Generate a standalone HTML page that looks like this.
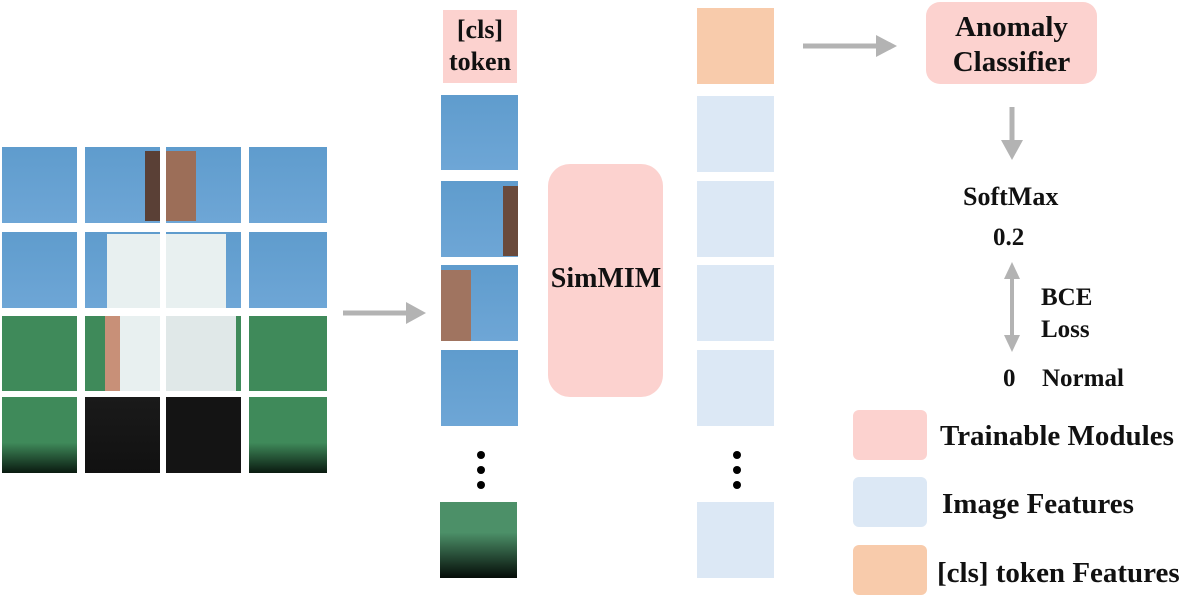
<!DOCTYPE html>
<html><head><style>
body{margin:0;width:1182px;height:599px;background:#fff;position:relative;overflow:hidden;font-family:"Liberation Serif",serif;font-weight:bold;color:#111}
.a{position:absolute}
.sky{background:linear-gradient(#5f9ccd,#6ea6d6)}
.grass{background:#3f8a5a}
.lb{background:#dce8f5}
.t{position:absolute;white-space:nowrap}
</style></head><body>
<div class="a sky" style="left:2px;top:147px;width:75px;height:76px"></div>
<div class="a sky" style="left:85px;top:147px;width:75px;height:76px"><div class="a" style="left:60px;top:4px;width:15px;height:70px;background:#5a4036"></div></div>
<div class="a sky" style="left:166px;top:147px;width:75px;height:76px"><div class="a" style="left:0;top:4px;width:30px;height:70px;background:#9c6e58"></div></div>
<div class="a sky" style="left:249px;top:147px;width:78px;height:76px"></div>
<div class="a sky" style="left:2px;top:232px;width:75px;height:76px"></div>
<div class="a sky" style="left:85px;top:232px;width:75px;height:76px"><div class="a" style="left:22px;top:2px;width:53px;height:74px;background:#e8f0f0"></div></div>
<div class="a sky" style="left:166px;top:232px;width:75px;height:76px"><div class="a" style="left:0;top:2px;width:60px;height:74px;background:#e8f0f0"></div></div>
<div class="a sky" style="left:249px;top:232px;width:78px;height:76px"></div>
<div class="a grass" style="left:2px;top:316px;width:75px;height:75px"></div>
<div class="a grass" style="left:85px;top:316px;width:75px;height:75px"><div class="a" style="left:20px;top:0;width:55px;height:75px;background:#c89078"></div><div class="a" style="left:35px;top:0;width:40px;height:75px;background:#e8f0f0"></div></div>
<div class="a grass" style="left:166px;top:316px;width:75px;height:75px"><div class="a" style="left:0;top:0;width:70px;height:75px;background:#e0e8e8"></div></div>
<div class="a grass" style="left:249px;top:316px;width:78px;height:75px"></div>
<div class="a" style="left:2px;top:397px;width:75px;height:76px;background:linear-gradient(#3f8a5a 60%,#0a1a10)"></div>
<div class="a" style="left:85px;top:397px;width:75px;height:76px;background:linear-gradient(#1a1a1a,#111)"></div>
<div class="a" style="left:166px;top:397px;width:75px;height:76px;background:#141414"></div>
<div class="a" style="left:249px;top:397px;width:78px;height:76px;background:linear-gradient(#3f8a5a 60%,#0a1a10)"></div>
<svg class="a" style="left:0;top:0" width="1182" height="599">
<g fill="#b3b3b3" stroke="#b3b3b3">
<line x1="343" y1="313" x2="408" y2="313" stroke-width="5"/><polygon points="406,302 426,313 406,324" stroke="none"/>
<line x1="803" y1="46" x2="878" y2="46" stroke-width="5"/><polygon points="876,35 897,46 876,57" stroke="none"/>
<line x1="1012" y1="107" x2="1012" y2="142" stroke-width="5"/><polygon points="1001,140 1012,160 1023,140" stroke="none"/>
<line x1="1012" y1="278" x2="1012" y2="336" stroke-width="4"/><polygon points="1004,279 1012,262 1020,279" stroke="none"/><polygon points="1004,335 1012,352 1020,335" stroke="none"/>
</g>
<g fill="#000"><circle cx="481" cy="455" r="4"/><circle cx="481" cy="470" r="4"/><circle cx="481" cy="485" r="4"/>
<circle cx="737" cy="455" r="4"/><circle cx="737" cy="470" r="4"/><circle cx="737" cy="485" r="4"/></g>
</svg>
<div class="a" style="left:443px;top:10px;width:74px;height:73px;background:#fcd2cf;text-align:center;font-size:26px;line-height:32px;padding-top:4px;box-sizing:border-box">[cls]<br>token</div>
<div class="a sky" style="left:441px;top:95px;width:77px;height:75px"></div>
<div class="a sky" style="left:441px;top:181px;width:77px;height:76px"><div class="a" style="left:62px;top:5px;width:15px;height:70px;background:#6a4a3c"></div></div>
<div class="a sky" style="left:441px;top:265px;width:77px;height:76px"><div class="a" style="left:0;top:5px;width:30px;height:71px;background:#a07460"></div></div>
<div class="a sky" style="left:441px;top:350px;width:77px;height:76px"></div>
<div class="a" style="left:440px;top:502px;width:77px;height:76px;background:linear-gradient(#4c9068 40%,#050c08)"></div>
<div class="a" style="left:548px;top:164px;width:115px;height:233px;background:#fcd2cf;border-radius:22px"></div>
<div class="t" style="left:540px;top:263px;width:132px;text-align:center;font-size:28px">SimMIM</div>
<div class="a" style="left:697px;top:8px;width:77px;height:76px;background:#f8cbab"></div>
<div class="a lb" style="left:697px;top:96px;width:77px;height:76px"></div>
<div class="a lb" style="left:697px;top:181px;width:77px;height:76px"></div>
<div class="a lb" style="left:697px;top:265px;width:77px;height:76px"></div>
<div class="a lb" style="left:697px;top:350px;width:77px;height:76px"></div>
<div class="a lb" style="left:697px;top:502px;width:77px;height:76px"></div>
<div class="a" style="left:926px;top:2px;width:171px;height:82px;background:#fcd2cf;border-radius:14px;text-align:center;font-size:29px;line-height:35px;padding-top:8px;box-sizing:border-box">Anomaly<br>Classifier</div>
<div class="t" style="left:963px;top:182px;font-size:26px">SoftMax</div>
<div class="t" style="left:993px;top:224px;font-size:25px">0.2</div>
<div class="t" style="left:1041px;top:284px;font-size:25px">BCE</div>
<div class="t" style="left:1041px;top:316px;font-size:25px">Loss</div>
<div class="t" style="left:1003px;top:365px;font-size:25px">0</div>
<div class="t" style="left:1042px;top:365px;font-size:25px">Normal</div>
<div class="a" style="left:853px;top:410px;width:74px;height:50px;background:#fcd2cf;border-radius:6px"></div>
<div class="a" style="left:853px;top:477px;width:74px;height:50px;background:#dce8f5;border-radius:6px"></div>
<div class="a" style="left:853px;top:545px;width:74px;height:50px;background:#f8cbab;border-radius:6px"></div>
<div class="t" style="left:940px;top:420px;font-size:29px">Trainable Modules</div>
<div class="t" style="left:942px;top:488px;font-size:29px">Image Features</div>
<div class="t" style="left:937px;top:557px;font-size:29px">[cls] token Features</div>
</body></html>
